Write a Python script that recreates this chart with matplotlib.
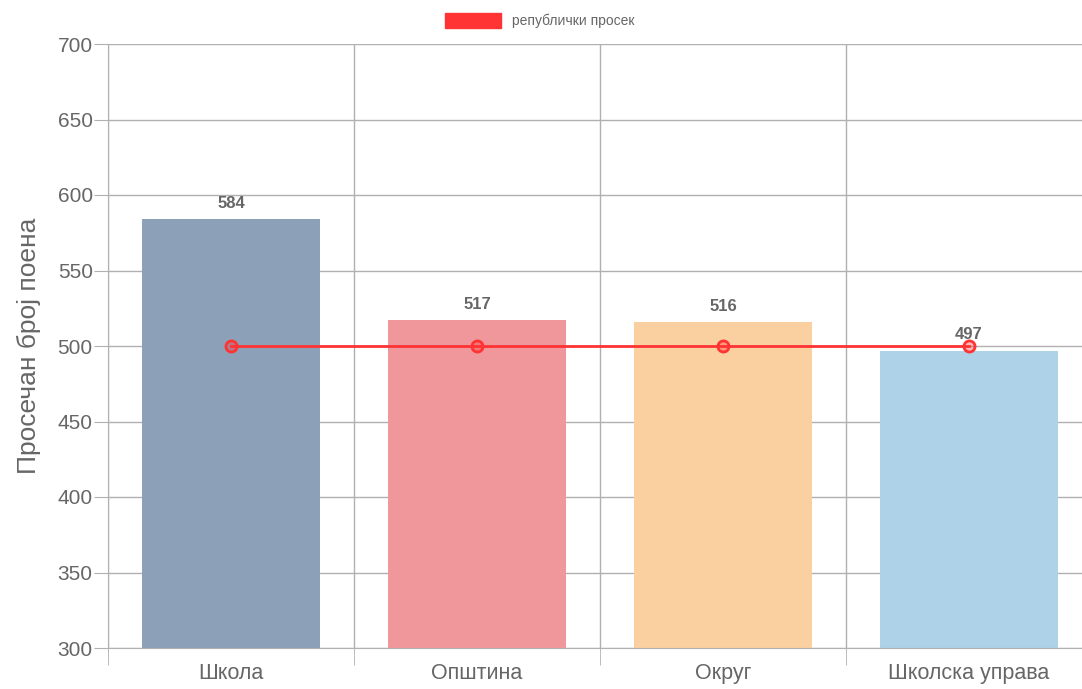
import numpy as np
import matplotlib.pyplot as plt
from matplotlib.patches import Patch

categories = ['Школа', 'Општина', 'Округ', 'Школска управа']
scores = [584, 517, 516, 497]
national_avg = [500, 500, 500, 500]
bar_colors = ['#8ca1b8', '#f0979c', '#fad0a0', '#aed2e8']

plt.rcParams['font.family'] = ['Liberation Sans', 'DejaVu Sans']

fig = plt.figure(figsize=(10.82, 6.89), dpi=100)
# last column runs past the right edge, like in the original
ax = fig.add_axes([108 / 1082, 41 / 689, 984 / 1082, 604 / 689])

x = np.arange(len(categories))
ax.bar(x, scores, width=0.72, color=bar_colors, zorder=2, bottom=0)
ax.plot(x, national_avg, color='#ff3333', lw=2, marker='o', ms=8,
        mfc=(1, 0.2, 0.2, 0.35), mec='#ff3333', mew=2, zorder=3)

for xi, v in zip(x, scores):
    ax.annotate(str(v), (xi, v), xytext=(0, 6), textcoords='offset points',
                ha='center', va='bottom', fontsize=12, fontweight='bold', color='#666666')

ax.set_ylim(300, 700)
ax.set_xlim(-0.5, len(categories) - 0.5)
ax.set_yticks(np.arange(300, 701, 50))
ax.set_xticks(x)
ax.set_xticklabels(categories)
ax.set_xticks(np.arange(-0.5, len(categories), 1), minor=True)

ax.grid(axis='y', color='#b0b0b0', lw=1, zorder=0)
ax.grid(axis='x', which='minor', color='#b0b0b0', lw=1, zorder=0)
ax.tick_params(axis='y', colors='#b0b0b0', labelcolor='#666666', labelsize=15, length=10, pad=1)
ax.tick_params(axis='x', which='major', length=0, labelcolor='#666666', labelsize=15.5, pad=11)
ax.tick_params(axis='x', which='minor', length=12, color='#b0b0b0')
for s in ['top', 'right']:
    ax.spines[s].set_visible(False)
for s in ['left', 'bottom']:
    ax.spines[s].set_color('#b0b0b0')

ax.set_ylabel('Просечан број поена', fontsize=19, color='#666666', labelpad=12)

fig.legend(handles=[Patch(facecolor='#ff3333', edgecolor='#ff3333')],
           labels=['републички просек'], loc='upper center', bbox_to_anchor=(0.499, 1.0),
           frameon=False, fontsize=10, labelcolor='#666666', handlelength=4, handleheight=1.3)

fig.savefig('out.png', dpi=100)
